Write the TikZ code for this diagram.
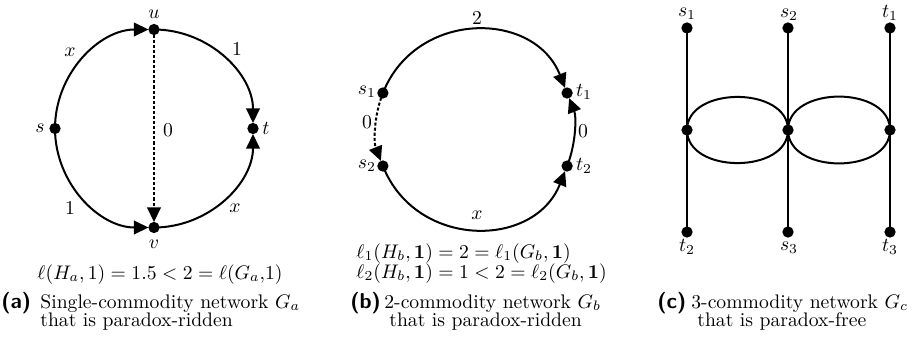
\documentclass[tikz,border=0pt]{standalone}
\usepackage{amsmath}
\usetikzlibrary{arrows.meta}
\begin{document}
\begin{tikzpicture}[x=0.509pt,y=0.509pt,
  vert/.style={circle,fill=black,inner sep=0pt,minimum size=5.75pt},
  edge/.style={line width=1.02pt},
  arr/.style={edge,shorten >=2.8pt,-{Triangle[length=7.4pt,width=6.9pt]}},
  dsh/.style={arr,dash pattern=on 1.57pt off 1.02pt},
  lbl/.style={inner sep=0pt},
  tag/.style={inner sep=0pt,font=\fontsize{10.95}{13}\selectfont\sffamily\bfseries,anchor=base west},
  captext/.style={inner sep=0pt,anchor=base west}]
\useasboundingbox (0,0) rectangle (913,-342);
% ---------- (a)
\node[vert] (s) at (55,-128.5) {};
\node[vert] (u) at (154,-29.5) {};
\node[vert] (t) at (253,-128.5) {};
\node[vert] (v) at (154,-227.5) {};
\node[lbl] (ls) at (40,-128) {$s$};
\node[lbl] (lu) at (154,-14) {$u$};
\node[lbl] (lt) at (266,-128) {$t$};
\node[lbl] (lv) at (154,-244) {$v$};
\draw[arr] (s.center) to[out=90,in=180] (u.center);
\draw[arr] (u.center) to[out=0,in=90] (t.center);
\draw[arr] (s.center) to[out=-90,in=180] (v.center);
\draw[arr] (v.center) to[out=0,in=-90] (t.center);
\draw[dsh] (u.center) -- (v.center);
\node[lbl] (ea1) at (70,-52) {$x$};
\node[lbl] (ea2) at (237,-49) {$1$};
\node[lbl] (ea3) at (168,-130) {$0$};
\node[lbl] (ea4) at (70,-208) {$1$};
\node[lbl] (ea5) at (235,-208) {$x$};
\node[lbl,anchor=base] (fa) at (160,-279) {$\ell(H_a,1) = 1.5 < 2 = \ell(G_a{,}1)$};
\node[tag] (ta) at (1,-308) {(a)};
\node[captext] (ca1) at (40,-308) {Single-commodity network $G_a$};
\node[captext] (ca2) at (40,-326) {that is paradox-ridden};
% ---------- (b)
\node[vert] (s1) at (382.9,-93) {};
\node[vert] (t1) at (567.1,-93) {};
\node[vert] (s2) at (382.9,-166) {};
\node[vert] (t2) at (567.1,-166) {};
\node[lbl] (ls1) at (367,-92) {$s_1$};
\node[lbl] (lt1) at (584,-92) {$t_1$};
\node[lbl] (ls2) at (367,-166) {$s_2$};
\node[lbl] (lt2) at (584,-166) {$t_2$};
\draw[arr] (s1.center) to[out=68.4,in=111.6,looseness=1.245] (t1.center);
\draw[dsh] (s1.center) to[out=248.4,in=111.6,looseness=0.88] (s2.center);
\draw[arr] (t2.center) to[out=68.4,in=291.6,looseness=0.88] (t1.center);
\draw[arr] (s2.center) to[out=291.6,in=248.4,looseness=1.245] (t2.center);
\node[lbl] (eb1) at (477,-18) {$2$};
\node[lbl] (eb2) at (367,-122) {$0$};
\node[lbl] (eb3) at (583,-131) {$0$};
\node[lbl] (eb4) at (477,-215) {$x$};
\node[lbl,anchor=base west] (fb1) at (356,-258)
  {$\ell_1(H_b,\mathbf{1}) = 2 = \ell_1(G_b,\mathbf{1})$};
\node[lbl,anchor=base west] (fb2) at (356,-278)
  {$\ell_2(H_b,\mathbf{1}) = 1 < 2 = \ell_2(G_b,\mathbf{1})$};
\node[tag] (tb) at (350,-308) {(b)};
\node[captext] (cb1) at (384,-308) {2-commodity network $G_b$};
\node[captext] (cb2) at (389,-326) {that is paradox-ridden};
% ---------- (c)
\node[vert] (a1) at (687,-28) {};
\node[vert] (a2) at (788,-28) {};
\node[vert] (a3) at (890,-28) {};
\node[vert] (m1) at (687,-130) {};
\node[vert] (m2) at (788,-130) {};
\node[vert] (m3) at (890,-130) {};
\node[vert] (b1) at (687,-232) {};
\node[vert] (b2) at (788,-232) {};
\node[vert] (b3) at (890,-232) {};
\node[lbl] (la1) at (687,-14) {$s_1$};
\node[lbl] (la2) at (789,-15) {$s_2$};
\node[lbl] (la3) at (890,-13) {$t_1$};
\node[lbl] (lb1) at (687,-247) {$t_2$};
\node[lbl] (lb2) at (789,-248) {$s_3$};
\node[lbl] (lb3) at (890,-247) {$t_3$};
\draw[edge] (a1.center) -- (m1.center) -- (b1.center);
\draw[edge] (a2.center) -- (m2.center) -- (b2.center);
\draw[edge] (a3.center) -- (m3.center) -- (b3.center);
\draw[edge] (m1.center) to[out=90,in=90,looseness=1.12] (m2.center);
\draw[edge] (m1.center) to[out=-90,in=-90,looseness=1.12] (m2.center);
\draw[edge] (m2.center) to[out=90,in=90,looseness=1.12] (m3.center);
\draw[edge] (m2.center) to[out=-90,in=-90,looseness=1.12] (m3.center);
\node[tag] (tc) at (657,-308) {(c)};
\node[captext] (cc1) at (691,-308) {3-commodity network $G_c$};
\node[captext] (cc2) at (697,-326) {that is paradox-free};
\end{tikzpicture}
\end{document}
